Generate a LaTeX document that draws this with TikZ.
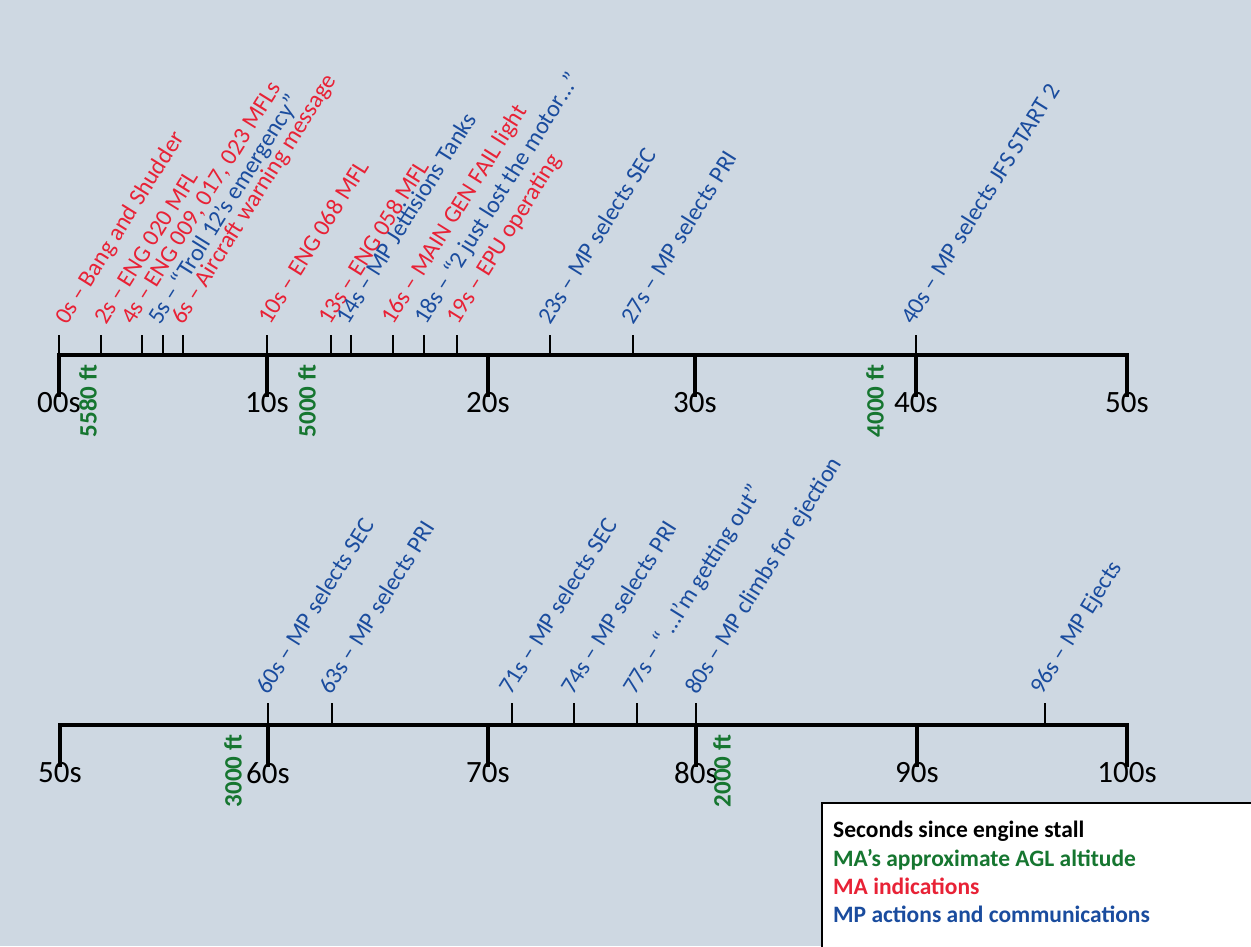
\documentclass[tikz,border=0pt]{standalone}
\usepackage{fontspec}
\setmainfont{Carlito}
\definecolor{bgc}{RGB}{206,216,226}
\definecolor{evred}{RGB}{232,34,54}
\definecolor{evblue}{RGB}{26,76,158}
\definecolor{altg}{RGB}{22,118,48}
\begin{document}
\begin{tikzpicture}[x=1pt,y=-1pt,
  axis/.style={line width=4pt, line join=miter},
  majtick/.style={line width=4pt},
  mintick/.style={line width=2pt},
  ev/.style={rotate=58, anchor=base west, inner sep=0pt, font=\fontsize{24}{24}\selectfont},
  secl/.style={font=\fontsize{31}{31}\selectfont, inner sep=0pt, anchor=north},
  alt/.style={rotate=90, font=\bfseries\fontsize{25}{25}\selectfont, text=altg, inner sep=0pt},
  leg/.style={anchor=base west, inner sep=0pt, font=\bfseries\fontsize{23.5}{23.5}\selectfont}]
\useasboundingbox (0,0) rectangle (1251,946);
\clip (0,0) rectangle (1251,946);
\fill[bgc] (0,0) rectangle (1251,946);

% ---------- top timeline ----------
\foreach \n/\x in {0/59,10/267,20/488,30/695,40/916,50/1127}{
  \coordinate (A\n) at (\x,355);
  \coordinate (B\n) at (\x,397);
}
\foreach \n/\x in {0/59,2/101,4/142,5/163,6/183,10/267,13/331,14/351,16/393,18/424,19/457,23/550,27/633,40/916}{
  \coordinate (M\n) at (\x,355);
  \coordinate (T\n) at (\x,335);
  \draw[mintick] (M\n) -- (T\n);
}
% label start points (baseline start of each rotated text)
\foreach \n/\x in {0/67,2/106,4/133,5/160,6/183,10/270,13/330,14/348,16/393,18/426,19/458,23/550,27/633,40/913}{
  \coordinate (L\n) at (\x,326);
}
\draw[axis] (B0) -- (A0) -- (A50) -- (B50);
\foreach \n in {10,20,30,40}{ \draw[majtick] (A\n) -- (B\n); }
\foreach \n/\t in {0/00s,10/10s,20/20s,30/30s,40/40s,50/50s}{
  \node[secl] (S\n) at ([yshift=5pt]B\n) {\t};
}

\node[ev, text=evred]  (e0)  at (L0)  {0s – Bang and Shudder};
\node[ev, text=evred]  (e2)  at (L2)  {2s – ENG 020 MFL};
\node[ev, text=evred]  (e4)  at (L4)  {4s – ENG 009, 017, 023 MFLs};
\node[ev, text=evblue] (e5)  at (L5)  {5s – “Troll 12’s emergency”};
\node[ev, text=evred]  (e6)  at (L6)  {6s – Aircraft warning message};
\node[ev, text=evred]  (e10) at (L10) {10s – ENG 068 MFL};
\node[ev, text=evred]  (e13) at (L13) {13s – ENG 058 MFL};
\node[ev, text=evblue] (e14) at (L14) {14s – MP Jettisions Tanks};
\node[ev, text=evred]  (e16) at (L16) {16s – MAIN GEN FAIL light};
\node[ev, text=evblue] (e18) at (L18) {18s – “2 just lost the motor…”};
\node[ev, text=evred]  (e19) at (L19) {19s – EPU operating};
\node[ev, text=evblue] (e23) at (L23) {23s – MP selects SEC};
\node[ev, text=evblue] (e27) at (L27) {27s – MP selects PRI};
\node[ev, text=evblue] (e40) at (L40) {40s – MP selects JFS START 2};

\node[alt] (h5580) at (88,401)  {5580 ft};
\node[alt] (h5000) at (307,401) {5000 ft};
\node[alt] (h4000) at (875,401) {4000 ft};

% ---------- bottom timeline ----------
\foreach \n/\x in {50/60,60/268,70/488,80/696,90/917,100/1127}{
  \coordinate (C\n) at (\x,725);
  \coordinate (D\n) at (\x,767);
}
\foreach \n/\x in {60/268,63/332,71/512,74/574,77/637,80/696,96/1045}{
  \coordinate (N\n) at (\x,725);
  \coordinate (U\n) at (\x,703);
  \draw[mintick] (N\n) -- (U\n);
}
\foreach \n/\x in {60/268,63/331,71/511,74/573,77/635,80/697,96/1042}{
  \coordinate (K\n) at (\x,696);
}
\draw[axis] (D50) -- (C50) -- (C100) -- (D100);
\foreach \n in {60,70,80,90}{ \draw[majtick] (C\n) -- (D\n); }
\foreach \n in {50,60,70,80,90,100}{
  \node[secl] (R\n) at ([yshift=5pt]D\n) {\n s};
}

\node[ev, text=evblue] (f60) at (K60) {60s – MP selects SEC};
\node[ev, text=evblue] (f63) at (K63) {63s – MP selects PRI};
\node[ev, text=evblue] (f71) at (K71) {71s – MP selects SEC};
\node[ev, text=evblue] (f74) at (K74) {74s – MP selects PRI};
\node[ev, text=evblue] (f77) at (K77) {77s – “ …I’m getting out”};
\node[ev, text=evblue] (f80) at (K80) {80s – MP climbs for ejection};
\node[ev, text=evblue] (f96) at (K96) {96s – MP Ejects};

\node[alt] (h3000) at (233,771) {3000 ft};
\node[alt] (h2000) at (722,771) {2000 ft};

% ---------- legend ----------
\draw[line width=2pt, fill=white] (822,803) rectangle (1265,960);
\node[leg]              (g1) at (833,837) {Seconds since engine stall};
\node[leg, text=altg]   (g2) at (833,866) {MA’s approximate AGL altitude};
\node[leg, text=evred]  (g3) at (833,894) {MA indications};
\node[leg, text=evblue] (g4) at (833,922) {MP actions and communications};
\end{tikzpicture}
\end{document}
